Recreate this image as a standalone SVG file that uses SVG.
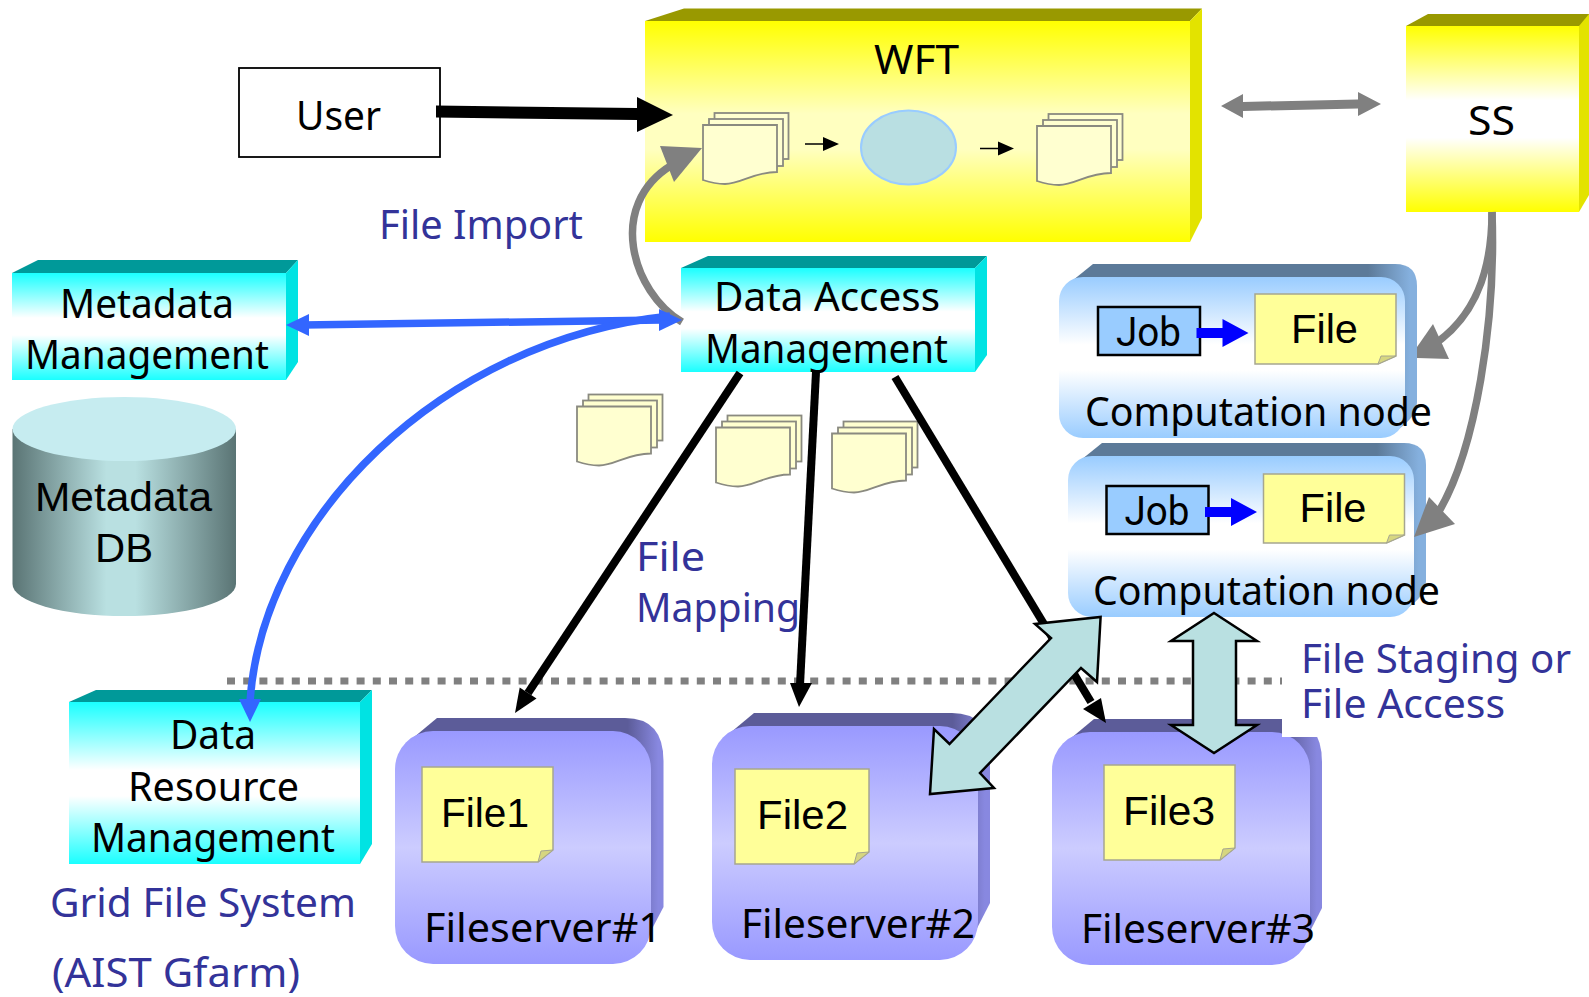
<svg xmlns="http://www.w3.org/2000/svg" xmlns:xlink="http://www.w3.org/1999/xlink" width="1589" height="997" viewBox="0 0 1589 997">
<style>
text{font-family:"Noto Sans","Open Sans","DejaVu Sans",sans-serif;font-size:40px;fill:#000}
.a{font-family:"Liberation Sans",Arial,sans-serif}
.j{font-family:Roboto,"Noto Sans",sans-serif}
.b{fill:#333399}
.file{fill:#ffff99;stroke:#a6a690;stroke-width:1.5}
.fold{fill:#d6d680;stroke:#a6a690;stroke-width:1}
.job{fill:#99ccff;stroke:#000;stroke-width:2.5}
.wide{fill:#b9e0e1;stroke:#000;stroke-width:2.5}
.sheet{fill:#ffffd0;stroke:#8a8a80;stroke-width:1.8}
.gline{fill:none;stroke:#808080;stroke-width:7.500}
.bl{fill:none;stroke:#3366ff;stroke-width:7.500}
.k{fill:none;stroke:#000;stroke-width:8}
.ghead{fill:#808080}
.blhead{fill:#3366ff}
.khead{fill:#000}
.jobarrow{fill:#0000ff}
</style>
<defs>
<linearGradient id="yel" x1="0" y1="0" x2="0" y2="1"><stop offset="0" stop-color="#ffff00"/><stop offset=".42" stop-color="#ffffc0"/><stop offset=".58" stop-color="#ffffc0"/><stop offset="1" stop-color="#ffff00"/></linearGradient>
<linearGradient id="yelw" x1="0" y1="0" x2="0" y2="1"><stop offset="0" stop-color="#ffff00"/><stop offset=".4" stop-color="#ffffff"/><stop offset=".6" stop-color="#ffffff"/><stop offset="1" stop-color="#ffff00"/></linearGradient>
<linearGradient id="cy" x1="0" y1="0" x2="0" y2="1"><stop offset="0" stop-color="#1affff"/><stop offset=".42" stop-color="#ffffff"/><stop offset=".58" stop-color="#ffffff"/><stop offset="1" stop-color="#1affff"/></linearGradient>
<linearGradient id="cb" x1="0" y1="0" x2="0" y2="1"><stop offset="0" stop-color="#99ccff"/><stop offset=".42" stop-color="#ffffff"/><stop offset=".58" stop-color="#ffffff"/><stop offset="1" stop-color="#99ccff"/></linearGradient>
<linearGradient id="fs" x1="0" y1="0" x2="0" y2="1"><stop offset="0" stop-color="#9999ff"/><stop offset=".5" stop-color="#ccccff"/><stop offset="1" stop-color="#9999ff"/></linearGradient>
<linearGradient id="cbs" x1="0" y1="0" x2="1" y2="0"><stop offset=".86" stop-color="#5c7a99"/><stop offset=".98" stop-color="#85b0de"/></linearGradient>
<linearGradient id="fss" x1="0" y1="0" x2="1" y2="0"><stop offset=".86" stop-color="#5c5c99"/><stop offset=".98" stop-color="#8888e0"/></linearGradient>
<linearGradient id="cyl" x1="0" y1="0" x2="1" y2="0"><stop offset="0" stop-color="#5a7474"/><stop offset=".42" stop-color="#b9e0e1"/><stop offset=".55" stop-color="#b9e0e1"/><stop offset="1" stop-color="#5a7474"/></linearGradient>
<g id="docs">
<rect class="sheet" x="11.5" y="-12" width="74" height="46"/>
<rect class="sheet" x="6" y="-6" width="74" height="47"/>
<path class="sheet" d="M0,0H74V47C50,47 38,59 22,59C12,59 6,57 0,55Z"/>
</g>
<g id="cn-shell">
<path fill="url(#cbs)" d="M8,8L34,-13H336Q358,-13 358,9V125Q358,140 338,153H20Z"/>
<rect fill="url(#cb)" width="346" height="161" rx="24"/>
</g>
</defs>

<g id="dash-line"><line x1="227" y1="681" x2="1282" y2="681" stroke="#808080" stroke-width="7" stroke-dasharray="8 8.2"/></g>

<g id="user"><rect x="239" y="68" width="201" height="89" fill="#fff" stroke="#000" stroke-width="1.8"/><text x="296" y="130" textLength="85" lengthAdjust="spacingAndGlyphs">User</text></g>

<g id="wft">
<path fill="#999900" d="M645,21L684,8.5H1202L1190,21Z"/>
<path fill="#e3e300" d="M1190,21L1202,8.5V218L1190,242Z"/>
<rect x="645" y="21" width="545" height="221" fill="url(#yel)"/>
<text x="874" y="74" textLength="85" lengthAdjust="spacingAndGlyphs">WFT</text>
<use xlink:href="#docs" href="#docs" transform="translate(703,125)"/>
<ellipse cx="908.500" cy="147.500" rx="47.500" ry="37" fill="#b9dfe2" stroke="#99ccff" stroke-width="2"/>
<use xlink:href="#docs" href="#docs" transform="translate(1037,126)"/>
<path fill="#000" d="M805,143.200H823V137L839,144L823,151V144.800H805Z"/>
<path fill="#000" d="M980,147.700H998V141.500L1014,148.500L998,155.500V149.300H980Z"/>
</g>

<g id="ss">
<path fill="#999900" d="M1406,26L1428,14H1589V26Z"/>
<path fill="#e3e300" d="M1579,26L1589,14V195L1579,212Z"/>
<rect x="1406" y="26" width="173" height="186" fill="url(#yelw)"/>
<text x="1468" y="135" textLength="47" lengthAdjust="spacingAndGlyphs">SS</text>
</g>

<g id="data-access">
<path fill="#009999" d="M681,268L708,256H987L975,268Z"/>
<path fill="#00e3e3" d="M975,268L987,256V355L975,372Z"/>
<rect x="681" y="268" width="294" height="104" fill="url(#cy)"/>
<text x="714" y="310.500" textLength="226" lengthAdjust="spacingAndGlyphs">Data Access</text>
<text x="705" y="362.500" textLength="243" lengthAdjust="spacingAndGlyphs">Management</text>
</g>

<g id="metadata-mgmt">
<path fill="#009999" d="M12,273L38,260H298L286,273Z"/>
<path fill="#00e3e3" d="M286,273L298,260V362L286,380Z"/>
<rect x="12" y="273" width="274" height="107" fill="url(#cy)"/>
<text x="60" y="318" textLength="174" lengthAdjust="spacingAndGlyphs">Metadata</text>
<text x="25" y="369" textLength="244" lengthAdjust="spacingAndGlyphs">Management</text>
</g>

<g id="metadata-db">
<path fill="url(#cyl)" d="M12.500,429V584A111.500,32 0 0 0 236,584V429Z"/>
<ellipse cx="124.250" cy="429" rx="111.750" ry="32" fill="#c6ecf0"/>
<text class="a" x="35" y="510.500" textLength="177" lengthAdjust="spacingAndGlyphs">Metadata</text>
<text class="a" x="95" y="561.500" textLength="58" lengthAdjust="spacingAndGlyphs">DB</text>
</g>

<g id="drm">
<path fill="#009999" d="M69,702L96,690H372L360,702Z"/>
<path fill="#00e3e3" d="M360,702L372,690V844L360,864Z"/>
<rect x="69" y="702" width="291" height="162" fill="url(#cy)"/>
<text x="170" y="748.500" textLength="86" lengthAdjust="spacingAndGlyphs">Data</text>
<text x="128" y="800.500" textLength="171" lengthAdjust="spacingAndGlyphs">Resource</text>
<text x="91" y="851.500" textLength="244" lengthAdjust="spacingAndGlyphs">Management</text>
</g>

<g id="cn1">
<use xlink:href="#cn-shell" href="#cn-shell" transform="translate(1059,277)"/>
<rect class="job" x="1098" y="307" width="102" height="48"/>
<text class="j" x="1116" y="346" textLength="65" lengthAdjust="spacingAndGlyphs">Job</text>
<path class="jobarrow" d="M1196.500,328H1222.500V319L1248.500,333L1222.500,347V338H1196.500Z"/>
<path class="file" d="M1255,294H1396V356L1378,364H1255Z"/>
<path class="fold" d="M1378,364L1381,356L1396,356Z"/>
<text class="a" x="1291" y="342.500" textLength="67" lengthAdjust="spacingAndGlyphs">File</text>
<text x="1085" y="425.500" textLength="347" lengthAdjust="spacingAndGlyphs">Computation node</text>
</g>

<g id="cn2">
<use xlink:href="#cn-shell" href="#cn-shell" transform="translate(1068,456)"/>
<rect class="job" x="1106.500" y="486" width="102" height="48"/>
<text class="j" x="1124.500" y="525" textLength="65" lengthAdjust="spacingAndGlyphs">Job</text>
<path class="jobarrow" d="M1205,507H1231V498L1257,512L1231,526V517H1205Z"/>
<path class="file" d="M1263.500,474H1404.500V535L1386.500,543H1263.500Z"/>
<path class="fold" d="M1386.500,543L1389.500,535L1404.500,535Z"/>
<text class="a" x="1299.500" y="521.500" textLength="67" lengthAdjust="spacingAndGlyphs">File</text>
<text x="1093" y="604.500" textLength="347" lengthAdjust="spacingAndGlyphs">Computation node</text>
</g>

<g id="fs1">
<path fill="url(#fss)" d="M407,743L437,718H625Q663.500,718 663.500,761V907L643,946H430Z"/>
<rect x="395" y="731" width="256" height="233" rx="38" fill="url(#fs)"/>
<path class="file" d="M422,767H553V850L538,862H422Z"/>
<path class="fold" d="M538,862L541,851L553,850Z"/>
<text class="a" x="441" y="826.500" textLength="88" lengthAdjust="spacingAndGlyphs">File1</text>
<text x="424" y="941.500" textLength="238" lengthAdjust="spacingAndGlyphs">Fileserver#1</text>
</g>

<g id="fs2">
<path fill="url(#fss)" d="M724,738L754,713H952Q990,713 990,756V903L970,942H747Z"/>
<rect x="712" y="726" width="266" height="234" rx="38" fill="url(#fs)"/>
<path class="file" d="M735,769H869V852L854,864H735Z"/>
<path class="fold" d="M854,864L857,853L869,852Z"/>
<text class="a" x="757" y="828.500" textLength="91" lengthAdjust="spacingAndGlyphs">File2</text>
<text x="741" y="937.500" textLength="234" lengthAdjust="spacingAndGlyphs">Fileserver#2</text>
</g>

<g id="fs3">
<path fill="url(#fss)" d="M1064,744L1094,719H1284Q1322,719 1322,762V908L1302,947H1087Z"/>
<rect x="1052" y="732" width="258" height="233" rx="38" fill="url(#fs)"/>
<path class="file" d="M1104,765H1235V848L1220,860H1104Z"/>
<path class="fold" d="M1220,860L1223,849L1235,848Z"/>
<text class="a" x="1123" y="824.500" textLength="92" lengthAdjust="spacingAndGlyphs">File3</text>
<text x="1081" y="942.500" textLength="234" lengthAdjust="spacingAndGlyphs">Fileserver#3</text>
</g>

<g id="mapping-files">
<use xlink:href="#docs" href="#docs" transform="translate(577,406.500)"/>
<use xlink:href="#docs" href="#docs" transform="translate(716,427.500)"/>
<use xlink:href="#docs" href="#docs" transform="translate(832,433.500)"/>
</g>

<rect id="label-backing" x="1282" y="625" width="307" height="112" fill="#fff"/>

<g id="connectors">
<path class="khead" d="M436,105.500L637,108V97L673,115L637,132V120L436,117.500Z"/>
<path class="ghead" d="M1221,106L1243,94V102L1358,99.500V92L1381,104L1358,116V108.500L1243,111V118Z"/>
<path class="gline" d="M682,322C632,292 606,205 672,165"/>
<path class="ghead" d="M702,148L660,146L674,182Z"/>
<path class="bl" d="M303,325L662,320"/>
<path class="blhead" d="M286,325L309,314V336Z"/>
<path class="blhead" d="M682,320L659,309V331Z"/>
<path class="bl" d="M670,316C440,340 262,520 250,702"/>
<path class="blhead" d="M250,722L239,699H261Z"/>
<path class="gline" d="M1492,212C1492,270 1476,318 1430,347"/>
<path class="ghead" d="M1417,347L1433,324L1449,359L1417,358Z"/>
<path class="gline" d="M1492,212C1496,320 1476,450 1438,513"/>
<path class="ghead" d="M1414,537L1429,497L1455,524Z"/>
<path class="k" d="M740,373L528,693"/>
<path class="khead" d="M515,713L519.700,687.400L536.500,698.400Z"/>
<path class="k" d="M816,372L800,685"/>
<path class="khead" d="M799,707L790,683H812Z"/>
<path class="k" d="M895,377L1091,702"/>
<path class="khead" d="M1106,723L1083,709L1101,698Z"/>
<polygon class="wide" points="1100.600,617 1097,682 1081,668 980,773 994,788 930,794 934,729 949.500,744 1051,638 1035,624"/>
<polygon class="wide" points="1214,613 1257,641 1236,641 1236,725 1257,725 1214,753 1171,725 1193,725 1193,641 1171,641"/>
</g>

<g id="labels">
<text class="b" x="379" y="238.500" textLength="204" lengthAdjust="spacingAndGlyphs">File Import</text>
<text class="b" x="636" y="571" textLength="69" lengthAdjust="spacingAndGlyphs">File</text>
<text class="b" x="636" y="622" textLength="164" lengthAdjust="spacingAndGlyphs">Mapping</text>
<text class="b" x="1301" y="673" textLength="270" lengthAdjust="spacingAndGlyphs">File Staging or</text>
<text class="b" x="1301" y="718" textLength="204" lengthAdjust="spacingAndGlyphs">File Access</text>
<text class="b" x="50" y="917" textLength="306" lengthAdjust="spacingAndGlyphs">Grid File System</text>
<text class="b" x="52" y="987" textLength="248" lengthAdjust="spacingAndGlyphs">(AIST Gfarm)</text>
</g>
</svg>
